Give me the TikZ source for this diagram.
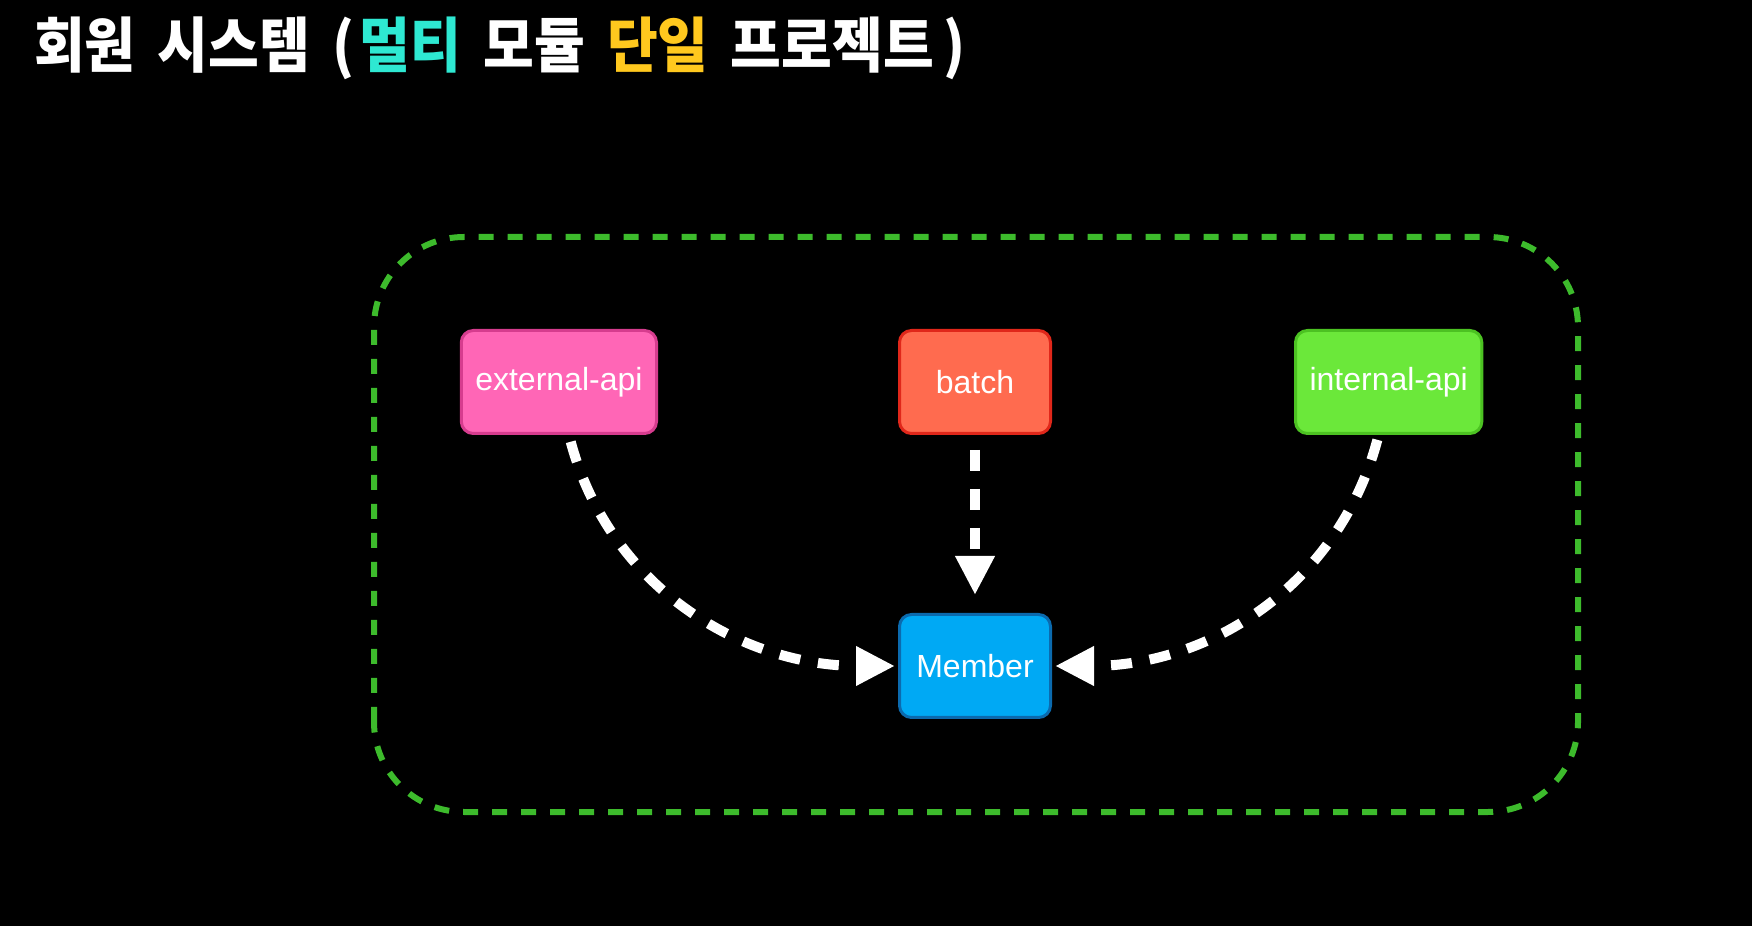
\documentclass[tikz,border=0pt]{standalone}
\usepackage{fontspec}
\setmainfont{Liberation Sans}
\newfontfamily\krfont{Noto Sans CJK KR}
\usepackage{tikz}
\usetikzlibrary{arrows.meta,positioning}
\definecolor{bgblack}{HTML}{000000}
\definecolor{titlecyan}{HTML}{2EE8D2}
\definecolor{titlegold}{HTML}{FFC81E}
\definecolor{extfill}{HTML}{FF66B6}
\definecolor{extline}{HTML}{D63C8E}
\definecolor{batchfill}{HTML}{FF6B4F}
\definecolor{batchline}{HTML}{E0271A}
\definecolor{intfill}{HTML}{6BE83A}
\definecolor{intline}{HTML}{4CC222}
\definecolor{memfill}{HTML}{00A9F4}
\definecolor{memline}{HTML}{0B6AAE}
\definecolor{framegreen}{HTML}{3DBB2C}

\begin{document}
\begin{tikzpicture}[x=1pt, y=1pt, node distance=240pt,
    box/.style={rounded corners=12pt, line width=3pt, minimum width=151pt,
      minimum height=103pt, inner xsep=14pt, text=white,
      font=\fontsize{32}{38}\selectfont},
    flow/.style={draw=white, line width=10pt, dash pattern=on 21pt off 18pt,
      -{Triangle[length=39pt, width=37pt]}}]
\fill[bgblack] (0,0) rectangle (1752,926);
\useasboundingbox (0,0) rectangle (1752,926);

% title
\node[anchor=west, inner sep=0pt, text=white, xscale=0.92,
  font=\krfont\bfseries\fontsize{60}{66}\selectfont] (title) at (34,878)
  {\spaceskip=24pt 회원 시스템 (\kern6pt\textcolor{titlecyan}{멀티} 모듈
   \textcolor{titlegold}{단일} 프로젝트\kern10pt)};

% project frame
\draw[framegreen, line width=6pt, dash pattern=on 15pt off 14pt,
  rounded corners=90pt] (374,114) rectangle (1578,689);

% modules
\node[box, fill=batchfill, draw=batchline] (batch) at (975,544) {batch};
\node[box, fill=extfill, draw=extline, left=of batch] (extapi) {external-api};
\node[box, fill=intfill, draw=intline, right=242pt of batch] (intapi) {internal-api};
\node[box, fill=memfill, draw=memline, below=178pt of batch] (member) {Member};

% dependencies
\draw[flow, shorten <=15pt, shorten >=18pt] (batch.south) -- (member.north);
\draw[flow, shorten <=7pt, shorten >=3pt] ([xshift=10pt]extapi.south)
  to[out=-75, in=180] (member.west);
\draw[flow, shorten <=5pt, shorten >=3pt] ([xshift=-10pt]intapi.south)
  to[out=-105, in=0] (member.east);
\end{tikzpicture}
\end{document}
